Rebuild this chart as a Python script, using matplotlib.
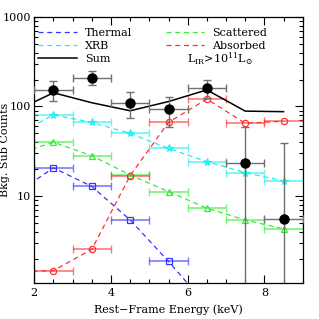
import numpy as np
import matplotlib
matplotlib.use("Agg")
import matplotlib.pyplot as plt
from matplotlib.lines import Line2D

plt.rcParams['font.family'] = ['DejaVu Serif']
plt.rcParams['mathtext.fontset'] = 'dejavuserif'

# bin centres (keV); model curves include the 1-2 keV bin (clipped by the axis)
e_model = [1.5, 2.5, 3.5, 4.5, 5.5, 6.5, 7.5, 8.5]
thermal = [10.6, 20.6, 12.8, 5.4, 1.86, 0.6, 0.2, 0.07]
xrb = [47.8, 80.4, 66.5, 50.0, 34.0, 24.2, 18.2, 14.8]
scattered = [29.2, 39.8, 28.2, 17.2, 11.2, 7.3, 5.4, 4.3]
absorbed = [1.43, 1.47, 2.54, 16.9, 66.5, 121.0, 64.9, 68.3]

e_data = [2.5, 3.5, 4.5, 5.5, 6.5, 7.5, 8.5]
counts = [153, 210, 109, 93, 160, 23.5, 5.6]
counts_err = [38, 36, 35, 34, 37, 36, 33]
bin_halfwidth = 0.5

total = [a + b + c + d for a, b, c, d in zip(thermal, xrb, scattered, absorbed)]

fig = plt.figure(figsize=(3.19, 3.19), dpi=100)
ax = fig.add_axes([0.1075, 0.113, 0.8415, 0.834])

models = [
    (thermal, '#3535ff', 's', 'Thermal'),
    (xrb, '#22eeee', '*', 'XRB'),
    (scattered, '#33ee33', '^', 'Scattered'),
    (absorbed, '#ff3030', 'o', 'Absorbed'),
]

for vals, col, mk, lab in models:
    ax.plot(e_model, vals, ls=(0, (4, 3)), color=col, lw=0.9, zorder=2)
    ax.errorbar(e_model[1:], vals[1:], xerr=bin_halfwidth, fmt='none',
                ecolor=col, alpha=0.65, elinewidth=1.2, capsize=3, zorder=2)
    ax.plot(e_model[1:], vals[1:], ls='none', marker=mk, mfc='none', mec=col,
            ms=5.5 if mk == '*' else 4.5, mew=0.9, zorder=3)

ax.plot(e_model, total, color='black', lw=1.1, zorder=4)

ax.errorbar(e_data, counts, xerr=bin_halfwidth, yerr=counts_err, fmt='o',
            color='black', ms=6.5, ecolor='#707070', elinewidth=1.0,
            capsize=3, zorder=5)

ax.set_yscale('log')
ax.set_xlim(2, 9)
ax.set_ylim(1.07, 1000)

ax.set_xticks([2, 4, 6, 8])
ax.set_xticks(np.arange(2, 9.01, 0.5), minor=True)
ax.set_yticks([10, 100, 1000])
ax.set_yticklabels(['10', '100', '1000'])
ax.tick_params(which='both', direction='in', top=True, right=True, labelsize=8)
ax.tick_params(axis='y', which='major', pad=2.5)
ax.tick_params(which='major', length=6, width=0.8)
ax.tick_params(which='minor', length=3, width=0.8)
for s in ax.spines.values():
    s.set_linewidth(0.9)

ax.set_xlabel('Rest\u2212Frame Energy (keV)', fontsize=8, labelpad=5)
ax.set_ylabel('Bkg. Sub Counts', fontsize=8)
ax.yaxis.set_label_coords(-0.092, 0.5)

handles = [
    Line2D([], [], color='#3535ff', ls=(0, (4, 3)), lw=0.9, label='Thermal'),
    Line2D([], [], color='#22eeee', ls=(0, (4, 3)), lw=0.9, label='XRB'),
    Line2D([], [], color='black', lw=1.1, label='Sum'),
    Line2D([], [], color='#33ee33', ls=(0, (4, 3)), lw=0.9, label='Scattered'),
    Line2D([], [], color='#ff3030', ls=(0, (4, 3)), lw=0.9, label='Absorbed'),
]
ax.legend(handles=handles, ncol=2, loc='upper left', bbox_to_anchor=(0.015, 0.96),
          frameon=False, fontsize=8, handlelength=3.5, handletextpad=0.7,
          columnspacing=3.0, labelspacing=0.3, borderpad=0, borderaxespad=0)

ax.text(0.569, 0.842, r'L$_{\rm IR}$>10$^{11}$L$_{\odot}$', transform=ax.transAxes,
        fontsize=8, va='center', ha='left')

fig.savefig('out.png', dpi=100)
